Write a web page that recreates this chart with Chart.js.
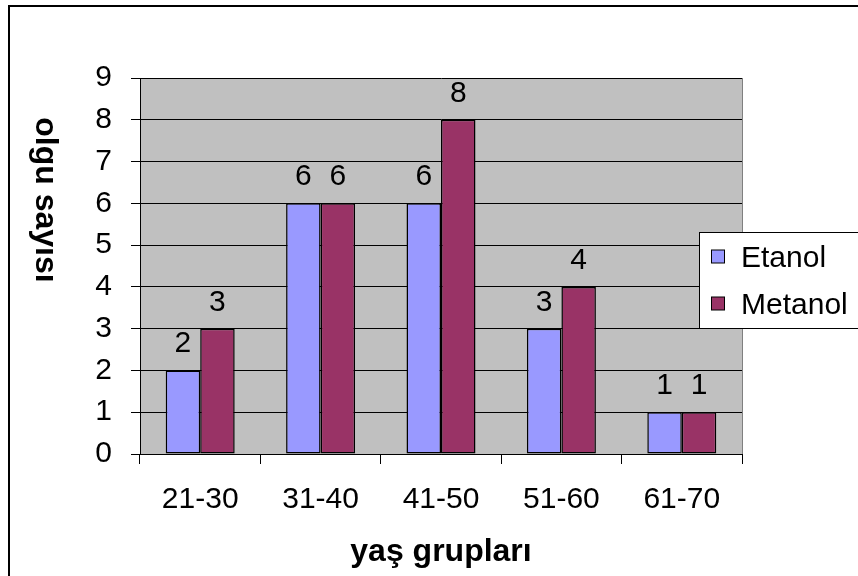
<!DOCTYPE html>
<html>
<head>
<meta charset="utf-8">
<script src="https://cdn.jsdelivr.net/npm/chart.js@4/dist/chart.umd.min.js"></script>
<style>
  html, body { margin: 0; padding: 0; background: #fff; }
  canvas { display: block; }
</style>
</head>
<body>
<canvas id="c" width="858" height="576"></canvas>
<script>
const categories = ['21-30', '31-40', '41-50', '51-60', '61-70'];
const etanol = [2, 6, 6, 3, 1];
const metanol = [3, 6, 8, 4, 1];
const seriesNames = ['Etanol', 'Metanol'];
const xTitle = 'yaş grupları';
const yTitle = 'olgu sayısı';

const FONT = '"Liberation Sans", Arial, sans-serif';

const decor = {
  id: 'decor',
  beforeDraw(chart) {
    const ctx = chart.ctx, a = chart.chartArea;
    ctx.save();
    ctx.fillStyle = '#fff';
    ctx.fillRect(0, 0, chart.width, chart.height);
    ctx.fillStyle = '#C0C0C0';
    ctx.fillRect(a.left, a.top, a.right - a.left, a.bottom - a.top);
    ctx.strokeStyle = '#808080';
    ctx.lineWidth = 1;
    ctx.beginPath();
    ctx.moveTo(a.right + 0.5, a.top);
    ctx.lineTo(a.right + 0.5, a.bottom);
    ctx.stroke();
    ctx.restore();
  },
  afterDraw(chart) {
    const ctx = chart.ctx, a = chart.chartArea;
    ctx.save();
    // outer frame
    ctx.strokeStyle = '#000';
    ctx.lineWidth = 2;
    ctx.strokeRect(9, 6, 900, 600);
    // data labels
    ctx.fillStyle = '#000';
    ctx.font = '30px ' + FONT;
    ctx.textAlign = 'center';
    ctx.textBaseline = 'alphabetic';
    chart.data.datasets.forEach((ds, di) => {
      const meta = chart.getDatasetMeta(di);
      meta.data.forEach((bar, i) => {
        ctx.fillText(String(ds.data[i]), bar.x, bar.y - 18);
      });
    });
    // axis titles
    ctx.font = 'bold 32px ' + FONT;
    ctx.textBaseline = 'middle';
    ctx.fillText(xTitle, (a.left + a.right) / 2, 552);
    ctx.save();
    ctx.translate(45, 200);
    ctx.rotate(Math.PI / 2);
    ctx.fillText(yTitle, 0, 0);
    ctx.restore();
    // legend
    ctx.fillStyle = '#fff';
    ctx.fillRect(699.5, 232.5, 200, 96);
    ctx.strokeStyle = '#000';
    ctx.lineWidth = 1;
    ctx.strokeRect(699.5, 232.5, 200, 96);
    const ys = [256.5, 303.5];
    chart.data.datasets.forEach((ds, di) => {
      ctx.fillStyle = ds.backgroundColor;
      ctx.fillRect(711.5, ys[di] - 6.5, 13, 13);
      ctx.strokeStyle = '#000';
      ctx.strokeRect(711.5, ys[di] - 6.5, 13, 13);
      ctx.fillStyle = '#000';
      ctx.font = '30px ' + FONT;
      ctx.textAlign = 'left';
      ctx.textBaseline = 'middle';
      ctx.fillText(ds.label, 741, ys[di] + 2);
    });
    ctx.restore();
  }
};

new Chart(document.getElementById('c'), {
  type: 'bar',
  data: {
    labels: categories,
    datasets: [
      { label: seriesNames[0], data: etanol, backgroundColor: '#9999FF', borderColor: '#000', borderWidth: 1.5, borderSkipped: false },
      { label: seriesNames[1], data: metanol, backgroundColor: '#993366', borderColor: '#000', borderWidth: 1.5, borderSkipped: false }
    ]
  },
  options: {
    responsive: false,
    animation: false,
    devicePixelRatio: 1,
    layout: { padding: { top: 78, right: 116, left: 0, bottom: 0 } },
    datasets: { bar: { barPercentage: 1, categoryPercentage: 0.573 } },
    plugins: { legend: { display: false }, tooltip: { enabled: false } },
    scales: {
      x: {
        offset: true,
        grid: { offset: true, drawOnChartArea: false, drawTicks: true, tickLength: 10, color: '#000' },
        border: { color: '#000', width: 1 },
        ticks: { color: '#000', font: { family: FONT, size: 30 }, padding: 18, maxRotation: 0 },
        afterFit(s) { s.height = 122; }
      },
      y: {
        min: 0, max: 9,
        grid: { color: '#000', tickLength: 9, lineWidth: 1 },
        border: { color: '#000', width: 1 },
        ticks: { stepSize: 1, color: '#000', font: { family: FONT, size: 30 }, padding: 19 },
        afterFit(s) { s.width = 140; }
      }
    }
  },
  plugins: [decor]
});
</script>
</body>
</html>
